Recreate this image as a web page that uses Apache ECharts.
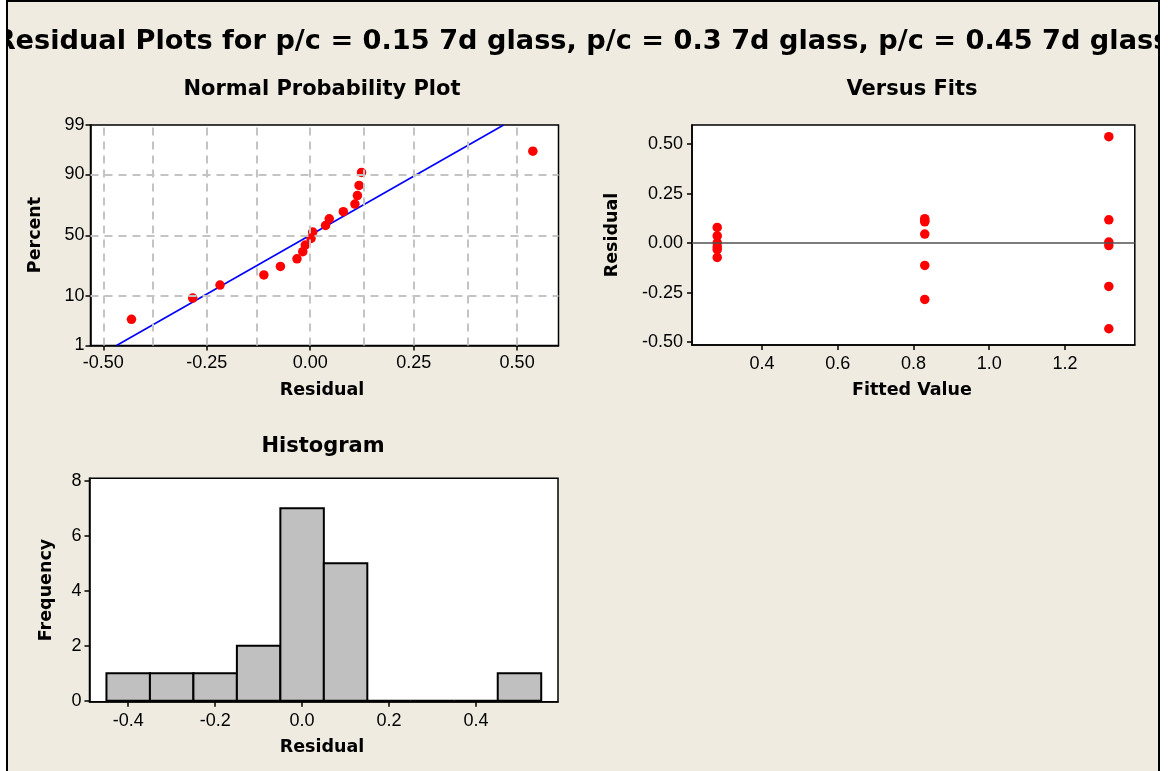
<!DOCTYPE html>
<html><head><meta charset="utf-8">
<script src="https://cdn.jsdelivr.net/npm/echarts@6/dist/echarts.min.js"></script>
<style>html,body{margin:0;padding:0;background:#fff}#c{width:1170px;height:771px}</style>
</head><body><div id="c"></div>
<script>
// ---------- data ----------
const titleText = 'Residual Plots for p/c = 0.15 7d glass, p/c = 0.3 7d glass, p/c = 0.45 7d glass';
const fittedValues = [0.282, 0.830, 1.316];
const residualsG1 = [-0.072, -0.032, -0.018, 0.002, 0.037, 0.080];
const residualsG2 = [-0.284, -0.112, 0.046, 0.108, 0.114, 0.124];
const residualsG3 = [-0.432, -0.218, -0.012, 0.006, 0.118, 0.538];
const ppPercent = [3.80, 9.24, 14.67, 20.11, 25.54, 30.98, 36.41, 41.85, 47.28, 52.72, 58.15, 63.59, 69.02, 74.46, 79.89, 85.33, 90.76, 96.20];
const ppYTickPercents = [1, 10, 50, 90, 99];
const ppYGridPercents = [10, 50, 90];
const ppXTicks = [-0.5, -0.25, 0, 0.25, 0.5];
const ppXGrid = [-0.5, -0.375, -0.25, -0.125, 0, 0.125, 0.25, 0.375, 0.5];
const vfXTicks = [0.4, 0.6, 0.8, 1.0, 1.2];
const vfYTicks = [-0.5, -0.25, 0, 0.25, 0.5];
const histBinCenters = [-0.4, -0.3, -0.2, -0.1, 0.0, 0.1, 0.2, 0.3, 0.4, 0.5];
const histCounts = [1, 1, 1, 2, 7, 5, 0, 0, 0, 1];
const histBinWidth = 0.1;
const histXTicks = [-0.4, -0.2, 0, 0.2, 0.4];
const histYTicks = [0, 2, 4, 6, 8];

// ---------- helpers ----------
function invNorm(p){
 const a=[-3.969683028665376e+01,2.209460984245205e+02,-2.759285104469687e+02,1.383577518672690e+02,-3.066479806614716e+01,2.506628277459239e+00];
 const b=[-5.447609879822406e+01,1.615858368580409e+02,-1.556989798598866e+02,6.680131188771972e+01,-1.328068155288572e+01];
 const c=[-7.784894002430293e-03,-3.223964580411365e-01,-2.400758277161838e+00,-2.549732539343734e+00,4.374664141464968e+00,2.938163982698783e+00];
 const d=[7.784695709041462e-03,3.224671290700398e-01,2.445134137142996e+00,3.754408661907416e+00];
 const pl=0.02425, ph=1-pl; let q,r;
 if(p<pl){q=Math.sqrt(-2*Math.log(p));return (((((c[0]*q+c[1])*q+c[2])*q+c[3])*q+c[4])*q+c[5])/((((d[0]*q+d[1])*q+d[2])*q+d[3])*q+1);}
 if(p<=ph){q=p-0.5;r=q*q;return (((((a[0]*r+a[1])*r+a[2])*r+a[3])*r+a[4])*r+a[5])*q/(((((b[0]*r+b[1])*r+b[2])*r+b[3])*r+b[4])*r+1);}
 q=Math.sqrt(-2*Math.log(1-p));return -(((((c[0]*q+c[1])*q+c[2])*q+c[3])*q+c[4])*q+c[5])/((((d[0]*q+d[1])*q+d[2])*q+d[3])*q+1);
}
const groups = [residualsG1, residualsG2, residualsG3];
const allRes = groups.flat();
const sortedRes = allRes.slice().sort((x,y)=>x-y);
const n = allRes.length;
const mu = allRes.reduce((s,v)=>s+v,0)/n;
const sd = Math.sqrt(allRes.reduce((s,v)=>s+(v-mu)*(v-mu),0)/(n-1));
const zMin = invNorm(ppYTickPercents[0]/100), zMax = invNorm(ppYTickPercents[ppYTickPercents.length-1]/100);
const ppYTickZ = ppYTickPercents.map(p=>invNorm(p/100));
const ppPoints = sortedRes.map((r,i)=>[r, invNorm(ppPercent[i]/100)]);
const fitLine = [[mu+sd*zMin, zMin],[mu+sd*zMax, zMax]];
const vfPoints = [];
groups.forEach((g,gi)=>g.forEach(r=>vfPoints.push([fittedValues[gi], r])));
const histData = histBinCenters.map((c,i)=>[c-histBinWidth/2, c+histBinWidth/2, histCounts[i]]);

// ---------- styles ----------
const BG = '#EFEBE0';
const tickFont = {fontFamily:'Liberation Sans', fontSize:18, color:'#000'};
function axisCommon(extra){
  return Object.assign({
    type:'value',
    axisLine:{show:true, onZero:false, lineStyle:{color:'#000', width:1.5}},
    splitLine:{show:false},
  }, extra);
}
function ticks(vals){ return {show:true, length:5, inside:false, customValues:vals, lineStyle:{color:'#000', width:1.5}}; }
const gridStyle = {show:true, backgroundColor:'#fff', borderColor:'#000', borderWidth:1.5, containLabel:false};
const dash = {color:'#C4C4C4', type:[8,6], width:2};
const dot = {color:'#FF0000', opacity:1};

const option = {
  backgroundColor:'#fff',
  animation:false,
  grid:[
    Object.assign({left:90.5, top:125, width:468, height:220.5}, gridStyle),
    Object.assign({left:692, top:125, width:442.8, height:220}, gridStyle),
    Object.assign({left:89.5, top:478.3, width:468.5, height:223.4}, gridStyle)
  ],
  xAxis:[
    axisCommon({gridIndex:0, min:-0.531, max:0.6, axisTick:ticks(ppXTicks),
      axisLabel:Object.assign({customValues:ppXTicks, margin:9, formatter:v=>v.toFixed(2)}, tickFont)}),
    axisCommon({gridIndex:1, min:0.2154, max:1.3846, axisTick:ticks(vfXTicks),
      axisLabel:Object.assign({customValues:vfXTicks, margin:10, formatter:v=>v.toFixed(1)}, tickFont)}),
    axisCommon({gridIndex:2, min:-0.489, max:0.5886, axisTick:ticks(histXTicks),
      axisLabel:Object.assign({customValues:histXTicks, margin:10, formatter:v=>v.toFixed(1)}, tickFont)})
  ],
  yAxis:[
    axisCommon({gridIndex:0, min:zMin, max:zMax, axisTick:ticks(ppYTickZ),
      axisLabel:Object.assign({customValues:ppYTickZ, margin:6, formatter:v=>{
        let best=0; ppYTickZ.forEach((z,i)=>{if(Math.abs(z-v)<Math.abs(ppYTickZ[best]-v)) best=i;});
        return String(ppYTickPercents[best]);}}, tickFont)}),
    axisCommon({gridIndex:1, min:-0.514, max:0.597, axisTick:ticks(vfYTicks),
      axisLabel:Object.assign({customValues:vfYTicks, margin:9, formatter:v=>v.toFixed(2)}, tickFont)}),
    axisCommon({gridIndex:2, min:-0.035, max:8.09, axisTick:ticks(histYTicks),
      axisLabel:Object.assign({customValues:histYTicks, margin:8, formatter:v=>String(Math.round(v))}, tickFont)})
  ],
  series:[
    {type:'line', xAxisIndex:0, yAxisIndex:0, data:[], z:1, silent:true,
      markLine:{silent:true, symbol:'none', label:{show:false}, lineStyle:dash, animation:false,
        data: ppXGrid.map(x=>({xAxis:x})).concat(ppYGridPercents.map(p=>({yAxis:invNorm(p/100)})))}},
    {type:'line', xAxisIndex:0, yAxisIndex:0, data:fitLine, z:2, symbol:'none', silent:true,
      lineStyle:{color:'#0000FF', width:1.6}},
    {type:'scatter', xAxisIndex:0, yAxisIndex:0, data:ppPoints, z:3, symbol:'circle', symbolSize:9.5,
      itemStyle:dot},
    {type:'scatter', xAxisIndex:1, yAxisIndex:1, data:vfPoints, z:3, symbol:'circle', symbolSize:9.5,
      itemStyle:dot,
      markLine:{silent:true, symbol:'none', label:{show:false}, animation:false,
        lineStyle:{color:'#505050', type:'solid', width:1.5}, data:[{yAxis:0}]}},
    {type:'custom', xAxisIndex:2, yAxisIndex:2, data:histData, z:3,
      renderItem:(params, api)=>{
        const p0 = api.coord([api.value(0), 0]);
        const p1 = api.coord([api.value(1), api.value(2)]);
        return {type:'rect', shape:{x:p0[0], y:p1[1], width:p1[0]-p0[0], height:p0[1]-p1[1]},
          style:{fill:'#C0C0C0', stroke:'#000', lineWidth:2}};
      }}
  ],
  graphic:[
    {type:'rect', z:-100, silent:true, shape:{x:7, y:1, width:1152, height:800}, style:{fill:BG}},
    {type:'text', z:10, x:582, y:42, style:{text:titleText, font:'bold 27.2px "DejaVu Sans"', fill:'#000', align:'center', verticalAlign:'middle'}},
    {type:'rect', z:50, silent:true, shape:{x:0, y:0, width:7, height:771}, style:{fill:'#fff'}},
    {type:'rect', z:50, silent:true, shape:{x:1160, y:0, width:10, height:771}, style:{fill:'#fff'}},
    {type:'rect', z:51, silent:true, shape:{x:7, y:1, width:1152, height:800}, style:{fill:null, stroke:'#000', lineWidth:2}},
    {type:'text', x:322, y:90, style:{text:'Normal Probability Plot', font:'bold 21px "DejaVu Sans"', fill:'#000', align:'center', verticalAlign:'middle'}},
    {type:'text', x:912, y:90, style:{text:'Versus Fits', font:'bold 21px "DejaVu Sans"', fill:'#000', align:'center', verticalAlign:'middle'}},
    {type:'text', x:323, y:447, style:{text:'Histogram', font:'bold 21px "DejaVu Sans"', fill:'#000', align:'center', verticalAlign:'middle'}},
    {type:'text', x:322, y:390, style:{text:'Residual', font:'bold 17.5px "DejaVu Sans"', fill:'#000', align:'center', verticalAlign:'middle'}},
    {type:'text', x:912, y:390, style:{text:'Fitted Value', font:'bold 17.5px "DejaVu Sans"', fill:'#000', align:'center', verticalAlign:'middle'}},
    {type:'text', x:322, y:747, style:{text:'Residual', font:'bold 17.5px "DejaVu Sans"', fill:'#000', align:'center', verticalAlign:'middle'}},
    {type:'text', x:35, y:235, rotation:Math.PI/2, style:{text:'Percent', font:'bold 17.5px "DejaVu Sans"', fill:'#000', align:'center', verticalAlign:'middle'}},
    {type:'text', x:612, y:235, rotation:Math.PI/2, style:{text:'Residual', font:'bold 17.5px "DejaVu Sans"', fill:'#000', align:'center', verticalAlign:'middle'}},
    {type:'text', x:46, y:590, rotation:Math.PI/2, style:{text:'Frequency', font:'bold 17.5px "DejaVu Sans"', fill:'#000', align:'center', verticalAlign:'middle'}}
  ]
};
const chart = echarts.init(document.getElementById('c'), null, {renderer:'canvas'});
chart.setOption(option);
</script></body></html>
